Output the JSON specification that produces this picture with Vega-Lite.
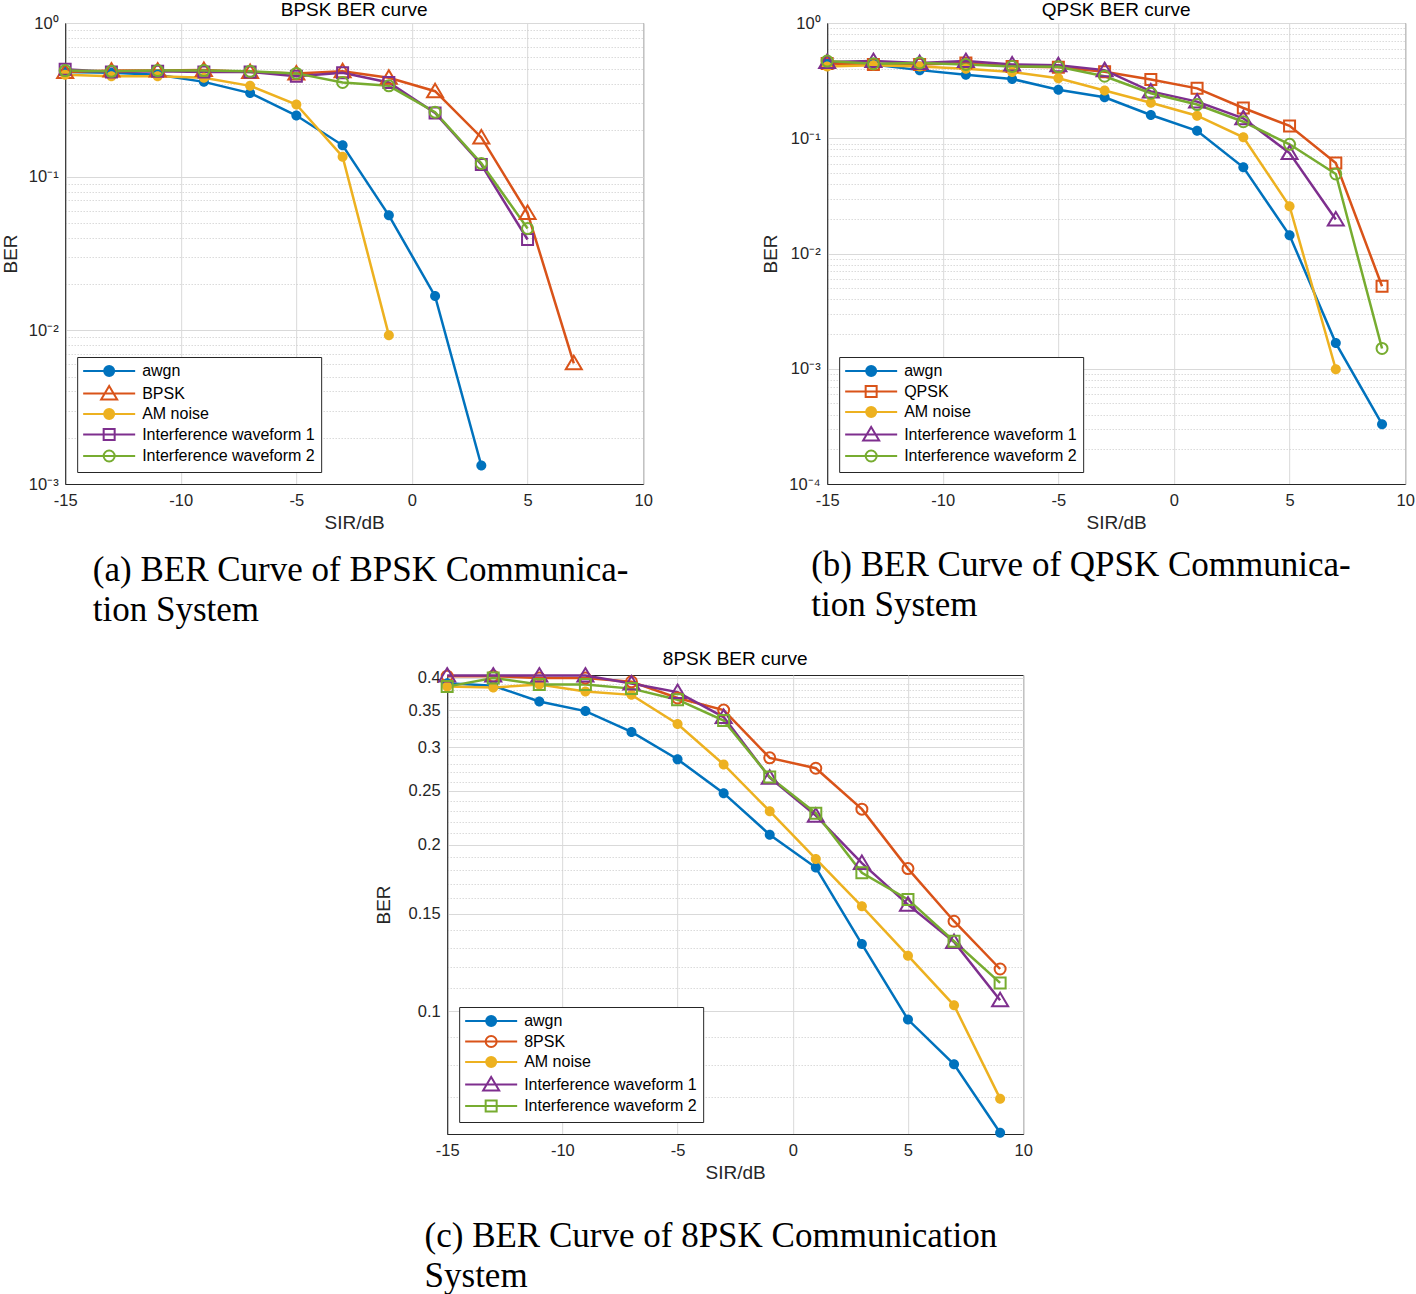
{
"$schema": "https://vega.github.io/schema/vega-lite/v6.json",
"background": "white",
"padding": {"left": 0, "top": 0, "right": 0, "bottom": 0},
"datasets": {
"bpsk": [
{"sir": -15, "ber": 0.48, "series": "awgn"},{"sir": -13, "ber": 0.475, "series": "awgn"},{"sir": -11, "ber": 0.46, "series": "awgn"},{"sir": -9, "ber": 0.414, "series": "awgn"},{"sir": -7, "ber": 0.35, "series": "awgn"},{"sir": -5, "ber": 0.25, "series": "awgn"},{"sir": -3, "ber": 0.16, "series": "awgn"},{"sir": -1, "ber": 0.056, "series": "awgn"},{"sir": 1, "ber": 0.0167, "series": "awgn"},{"sir": 3, "ber": 0.00132, "series": "awgn"},
{"sir": -15, "ber": 0.48, "series": "BPSK"},{"sir": -13, "ber": 0.49, "series": "BPSK"},{"sir": -11, "ber": 0.49, "series": "BPSK"},{"sir": -9, "ber": 0.495, "series": "BPSK"},{"sir": -7, "ber": 0.48, "series": "BPSK"},{"sir": -5, "ber": 0.47, "series": "BPSK"},{"sir": -3, "ber": 0.485, "series": "BPSK"},{"sir": -1, "ber": 0.44, "series": "BPSK"},{"sir": 1, "ber": 0.36, "series": "BPSK"},{"sir": 3, "ber": 0.18, "series": "BPSK"},{"sir": 5, "ber": 0.058, "series": "BPSK"},{"sir": 7, "ber": 0.0061, "series": "BPSK"},
{"sir": -15, "ber": 0.46, "series": "AM noise"},{"sir": -13, "ber": 0.45, "series": "AM noise"},{"sir": -11, "ber": 0.45, "series": "AM noise"},{"sir": -9, "ber": 0.44, "series": "AM noise"},{"sir": -7, "ber": 0.39, "series": "AM noise"},{"sir": -5, "ber": 0.295, "series": "AM noise"},{"sir": -3, "ber": 0.135, "series": "AM noise"},{"sir": -1, "ber": 0.0093, "series": "AM noise"},
{"sir": -15, "ber": 0.5, "series": "Interference waveform 1"},{"sir": -13, "ber": 0.48, "series": "Interference waveform 1"},{"sir": -11, "ber": 0.485, "series": "Interference waveform 1"},{"sir": -9, "ber": 0.48, "series": "Interference waveform 1"},{"sir": -7, "ber": 0.48, "series": "Interference waveform 1"},{"sir": -5, "ber": 0.45, "series": "Interference waveform 1"},{"sir": -3, "ber": 0.475, "series": "Interference waveform 1"},{"sir": -1, "ber": 0.41, "series": "Interference waveform 1"},{"sir": 1, "ber": 0.26, "series": "Interference waveform 1"},{"sir": 3, "ber": 0.12, "series": "Interference waveform 1"},{"sir": 5, "ber": 0.039, "series": "Interference waveform 1"},
{"sir": -15, "ber": 0.49, "series": "Interference waveform 2"},{"sir": -13, "ber": 0.485, "series": "Interference waveform 2"},{"sir": -11, "ber": 0.49, "series": "Interference waveform 2"},{"sir": -9, "ber": 0.49, "series": "Interference waveform 2"},{"sir": -7, "ber": 0.485, "series": "Interference waveform 2"},{"sir": -5, "ber": 0.47, "series": "Interference waveform 2"},{"sir": -3, "ber": 0.41, "series": "Interference waveform 2"},{"sir": -1, "ber": 0.39, "series": "Interference waveform 2"},{"sir": 1, "ber": 0.263, "series": "Interference waveform 2"},{"sir": 3, "ber": 0.122, "series": "Interference waveform 2"},{"sir": 5, "ber": 0.046, "series": "Interference waveform 2"}
],
"qpsk": [
{"sir": -15, "ber": 0.458, "series": "awgn"},{"sir": -13, "ber": 0.437, "series": "awgn"},{"sir": -11, "ber": 0.39, "series": "awgn"},{"sir": -9, "ber": 0.355, "series": "awgn"},{"sir": -7, "ber": 0.327, "series": "awgn"},{"sir": -5, "ber": 0.264, "series": "awgn"},{"sir": -3, "ber": 0.227, "series": "awgn"},{"sir": -1, "ber": 0.159, "series": "awgn"},{"sir": 1, "ber": 0.116, "series": "awgn"},{"sir": 3, "ber": 0.056, "series": "awgn"},{"sir": 5, "ber": 0.0144, "series": "awgn"},{"sir": 7, "ber": 0.00167, "series": "awgn"},{"sir": 9, "ber": 0.00033, "series": "awgn"},
{"sir": -15, "ber": 0.445, "series": "QPSK"},{"sir": -13, "ber": 0.437, "series": "QPSK"},{"sir": -11, "ber": 0.437, "series": "QPSK"},{"sir": -9, "ber": 0.45, "series": "QPSK"},{"sir": -7, "ber": 0.42, "series": "QPSK"},{"sir": -5, "ber": 0.414, "series": "QPSK"},{"sir": -3, "ber": 0.377, "series": "QPSK"},{"sir": -1, "ber": 0.323, "series": "QPSK"},{"sir": 1, "ber": 0.271, "series": "QPSK"},{"sir": 3, "ber": 0.183, "series": "QPSK"},{"sir": 5, "ber": 0.128, "series": "QPSK"},{"sir": 7, "ber": 0.061, "series": "QPSK"},{"sir": 9, "ber": 0.0052, "series": "QPSK"},
{"sir": -15, "ber": 0.42, "series": "AM noise"},{"sir": -13, "ber": 0.43, "series": "AM noise"},{"sir": -11, "ber": 0.42, "series": "AM noise"},{"sir": -9, "ber": 0.4, "series": "AM noise"},{"sir": -7, "ber": 0.375, "series": "AM noise"},{"sir": -5, "ber": 0.332, "series": "AM noise"},{"sir": -3, "ber": 0.26, "series": "AM noise"},{"sir": -1, "ber": 0.203, "series": "AM noise"},{"sir": 1, "ber": 0.157, "series": "AM noise"},{"sir": 3, "ber": 0.102, "series": "AM noise"},{"sir": 5, "ber": 0.0257, "series": "AM noise"},{"sir": 7, "ber": 0.00099, "series": "AM noise"},
{"sir": -15, "ber": 0.458, "series": "Interference waveform 1"},{"sir": -13, "ber": 0.467, "series": "Interference waveform 1"},{"sir": -11, "ber": 0.45, "series": "Interference waveform 1"},{"sir": -9, "ber": 0.467, "series": "Interference waveform 1"},{"sir": -7, "ber": 0.437, "series": "Interference waveform 1"},{"sir": -5, "ber": 0.43, "series": "Interference waveform 1"},{"sir": -3, "ber": 0.39, "series": "Interference waveform 1"},{"sir": -1, "ber": 0.255, "series": "Interference waveform 1"},{"sir": 1, "ber": 0.208, "series": "Interference waveform 1"},{"sir": 3, "ber": 0.149, "series": "Interference waveform 1"},{"sir": 5, "ber": 0.0743, "series": "Interference waveform 1"},{"sir": 7, "ber": 0.0197, "series": "Interference waveform 1"},
{"sir": -15, "ber": 0.467, "series": "Interference waveform 2"},{"sir": -13, "ber": 0.443, "series": "Interference waveform 2"},{"sir": -11, "ber": 0.45, "series": "Interference waveform 2"},{"sir": -9, "ber": 0.437, "series": "Interference waveform 2"},{"sir": -7, "ber": 0.42, "series": "Interference waveform 2"},{"sir": -5, "ber": 0.417, "series": "Interference waveform 2"},{"sir": -3, "ber": 0.345, "series": "Interference waveform 2"},{"sir": -1, "ber": 0.246, "series": "Interference waveform 2"},{"sir": 1, "ber": 0.196, "series": "Interference waveform 2"},{"sir": 3, "ber": 0.139, "series": "Interference waveform 2"},{"sir": 5, "ber": 0.0886, "series": "Interference waveform 2"},{"sir": 7, "ber": 0.049, "series": "Interference waveform 2"},{"sir": 9, "ber": 0.0015, "series": "Interference waveform 2"}
],
"psk8": [
{"sir": -15, "ber": 0.3915, "series": "awgn"},{"sir": -13, "ber": 0.3873, "series": "awgn"},{"sir": -11, "ber": 0.3628, "series": "awgn"},{"sir": -9, "ber": 0.3485, "series": "awgn"},{"sir": -7, "ber": 0.3196, "series": "awgn"},{"sir": -5, "ber": 0.2852, "series": "awgn"},{"sir": -3, "ber": 0.2477, "series": "awgn"},{"sir": -1, "ber": 0.2084, "series": "awgn"},{"sir": 1, "ber": 0.1818, "series": "awgn"},{"sir": 3, "ber": 0.1322, "series": "awgn"},{"sir": 5, "ber": 0.0966, "series": "awgn"},{"sir": 7, "ber": 0.0802, "series": "awgn"},{"sir": 9, "ber": 0.0603, "series": "awgn"},
{"sir": -15, "ber": 0.403, "series": "8PSK"},{"sir": -13, "ber": 0.403, "series": "8PSK"},{"sir": -11, "ber": 0.4, "series": "8PSK"},{"sir": -9, "ber": 0.4, "series": "8PSK"},{"sir": -7, "ber": 0.3937, "series": "8PSK"},{"sir": -5, "ber": 0.368, "series": "8PSK"},{"sir": -3, "ber": 0.35, "series": "8PSK"},{"sir": -1, "ber": 0.2869, "series": "8PSK"},{"sir": 1, "ber": 0.2748, "series": "8PSK"},{"sir": 3, "ber": 0.2318, "series": "8PSK"},{"sir": 5, "ber": 0.181, "series": "8PSK"},{"sir": 7, "ber": 0.1454, "series": "8PSK"},{"sir": 9, "ber": 0.1192, "series": "8PSK"},
{"sir": -15, "ber": 0.3859, "series": "AM noise"},{"sir": -13, "ber": 0.3845, "series": "AM noise"},{"sir": -11, "ber": 0.3893, "series": "AM noise"},{"sir": -9, "ber": 0.3783, "series": "AM noise"},{"sir": -7, "ber": 0.3729, "series": "AM noise"},{"sir": -5, "ber": 0.3303, "series": "AM noise"},{"sir": -3, "ber": 0.2791, "series": "AM noise"},{"sir": -1, "ber": 0.2298, "series": "AM noise"},{"sir": 1, "ber": 0.1884, "series": "AM noise"},{"sir": 3, "ber": 0.1547, "series": "AM noise"},{"sir": 5, "ber": 0.126, "series": "AM noise"},{"sir": 7, "ber": 0.1025, "series": "AM noise"},{"sir": 9, "ber": 0.0695, "series": "AM noise"},
{"sir": -15, "ber": 0.404, "series": "Interference waveform 1"},{"sir": -13, "ber": 0.404, "series": "Interference waveform 1"},{"sir": -11, "ber": 0.404, "series": "Interference waveform 1"},{"sir": -9, "ber": 0.404, "series": "Interference waveform 1"},{"sir": -7, "ber": 0.391, "series": "Interference waveform 1"},{"sir": -5, "ber": 0.3772, "series": "Interference waveform 1"},{"sir": -3, "ber": 0.34, "series": "Interference waveform 1"},{"sir": -1, "ber": 0.2642, "series": "Interference waveform 1"},{"sir": 1, "ber": 0.2256, "series": "Interference waveform 1"},{"sir": 3, "ber": 0.1852, "series": "Interference waveform 1"},{"sir": 5, "ber": 0.1558, "series": "Interference waveform 1"},{"sir": 7, "ber": 0.1334, "series": "Interference waveform 1"},{"sir": 9, "ber": 0.1047, "series": "Interference waveform 1"},
{"sir": -15, "ber": 0.3859, "series": "Interference waveform 2"},{"sir": -13, "ber": 0.4, "series": "Interference waveform 2"},{"sir": -11, "ber": 0.3893, "series": "Interference waveform 2"},{"sir": -9, "ber": 0.3893, "series": "Interference waveform 2"},{"sir": -7, "ber": 0.3827, "series": "Interference waveform 2"},{"sir": -5, "ber": 0.3654, "series": "Interference waveform 2"},{"sir": -3, "ber": 0.3351, "series": "Interference waveform 2"},{"sir": -1, "ber": 0.265, "series": "Interference waveform 2"},{"sir": 1, "ber": 0.2279, "series": "Interference waveform 2"},{"sir": 3, "ber": 0.1779, "series": "Interference waveform 2"},{"sir": 5, "ber": 0.1592, "series": "Interference waveform 2"},{"sir": 7, "ber": 0.1338, "series": "Interference waveform 2"},{"sir": 9, "ber": 0.1125, "series": "Interference waveform 2"}
]
},
"config": {
"font": "Liberation Sans",
"view": {"stroke": "#262626", "strokeWidth": 1},
"axis": {"labelFont": "Liberation Sans", "titleFont": "Liberation Sans", "labelFontSize": 16.5, "titleFontSize": 19, "labelColor": "#262626", "titleColor": "#262626", "titleFontWeight": "normal", "domainColor": "#262626", "ticks": false, "labelFlush": false, "labelOverlap": false, "gridColor": "#d9d9d9", "gridOpacity": 1},
"title": {"font": "Liberation Sans", "fontSize": 19, "fontWeight": "normal", "color": "#000000", "offset": -5},
"legend": {"labelFont": "Liberation Sans", "labelFontSize": 16, "labelColor": "#000000", "labelLimit": 400, "orient": "bottom-left", "offset": 12, "fillColor": "white", "strokeColor": "#262626", "padding": 6, "rowPadding": 1.5, "symbolSize": 100, "symbolStrokeWidth": 2, "symbolOffset": 18, "labelOffset": 25, "cornerRadius": 0}
},
"resolve": {"scale": {"color": "independent"}, "legend": {"color": "independent"}},
"center": true,
"spacing": 21,
"vconcat": [
{
"hconcat": [
{
"resolve": {"scale": {"color": "independent"}, "legend": {"color": "independent"}},
"title": {"text": ["(a) BER Curve of BPSK Communica-", "tion System"], "orient": "bottom", "anchor": "start", "font": "Liberation Serif", "fontSize": 35, "fontWeight": "normal", "lineHeight": 40, "offset": 20, "dx": 92, "color": "#000000"},
"vconcat": [
{
"width": 578, "height": 461,
"title": {"text": "BPSK BER curve"},
"data": {"name": "bpsk"},
"encoding": {
"x": {"field": "sir", "type": "quantitative", "scale": {"domain": [-15, 10], "nice": false}, "axis": {"values": [-15, -10, -5, 0, 5, 10], "labelExpr": "'' + datum.value", "title": "SIR/dB", "labelPadding": 8, "titlePadding": 5}},
"y": {"field": "ber", "type": "quantitative", "scale": {"type": "log", "domain": [0.001, 1], "nice": false}, "axis": {"title": "BER", "labelPadding": 7, "titlePadding": 8,
"values": [0.001,0.002,0.003,0.004,0.005,0.006,0.007,0.008,0.009,0.01,0.02,0.03,0.04,0.05,0.06,0.07,0.08,0.09,0.1,0.2,0.3,0.4,0.5,0.6,0.7,0.8,0.9,1],
"labelExpr": "datum.value===1?'10⁰':datum.value===0.1?'10⁻¹':datum.value===0.01?'10⁻²':datum.value===0.001?'10⁻³':''",
"gridDash": {"condition": {"test": "indexof([1,0.1,0.01,0.001], datum.value) < 0", "value": [1, 2]}, "value": []},
"gridColor": {"condition": {"test": "indexof([1,0.1,0.01,0.001], datum.value) < 0", "value": "#c8c8c8"}, "value": "#d9d9d9"}}}
},
"layer": [
{"mark": {"type": "line", "strokeWidth": 2.5},
"encoding": {
"color": {"field": "series", "type": "nominal", "scale": {"domain": ["awgn", "BPSK", "AM noise", "Interference waveform 1", "Interference waveform 2"], "range": ["#0072BD", "#D95319", "#EDB120", "#7E2F8E", "#77AC30"]},
"legend": {"title": null, "encode": {"symbols": {"update": {
"shape": {"signal": "datum.value==='BPSK'?'M-5.2,0H5.2M0,-1.5L1.6,1.2L-1.6,1.2Z':datum.value==='Interference waveform 1'?'M-5.2,0H5.2M-1.1,-1.1H1.1V1.1H-1.1Z':datum.value==='Interference waveform 2'?'M-5.2,0H5.2M-1.1,0A1.1,1.1 0 1,0 1.1,0A1.1,1.1 0 1,0 -1.1,0Z':'M-5.2,0H5.2M-1,0A1,1 0 1,0 1,0A1,1 0 1,0 -1,0Z'"},
"fill": {"signal": "datum.value==='awgn'?'#0072BD':datum.value==='AM noise'?'#EDB120':'transparent'"},
"stroke": {"signal": "datum.value==='awgn'?'#0072BD':datum.value==='BPSK'?'#D95319':datum.value==='AM noise'?'#EDB120':datum.value==='Interference waveform 1'?'#7E2F8E':'#77AC30'"},
"strokeWidth": {"value": 2}, "opacity": {"value": 1}}}}}}
}},
{"transform": [{"filter": {"field": "series", "equal": "awgn"}}], "mark": {"type": "point", "shape": "M-1,0A1,1 0 1,0 1,0A1,1 0 1,0 -1,0Z", "size": 100, "strokeWidth": 2, "opacity": 1, "filled": true, "color": "#0072BD"}},
{"transform": [{"filter": {"field": "series", "equal": "BPSK"}}], "mark": {"type": "point", "shape": "M0,-1.5L1.6,1.2L-1.6,1.2Z", "size": 100, "strokeWidth": 2, "opacity": 1, "filled": false, "color": "#D95319"}},
{"transform": [{"filter": {"field": "series", "equal": "AM noise"}}], "mark": {"type": "point", "shape": "M-1,0A1,1 0 1,0 1,0A1,1 0 1,0 -1,0Z", "size": 100, "strokeWidth": 2, "opacity": 1, "filled": true, "color": "#EDB120"}},
{"transform": [{"filter": {"field": "series", "equal": "Interference waveform 1"}}], "mark": {"type": "point", "shape": "M-1.1,-1.1H1.1V1.1H-1.1Z", "size": 100, "strokeWidth": 2, "opacity": 1, "filled": false, "color": "#7E2F8E"}},
{"transform": [{"filter": {"field": "series", "equal": "Interference waveform 2"}}], "mark": {"type": "point", "shape": "M-1.1,0A1.1,1.1 0 1,0 1.1,0A1.1,1.1 0 1,0 -1.1,0Z", "size": 100, "strokeWidth": 2, "opacity": 1, "filled": false, "color": "#77AC30"}}
]
}
]
},
{
"resolve": {"scale": {"color": "independent"}, "legend": {"color": "independent"}},
"title": {"text": ["(b) BER Curve of QPSK Communica-", "tion System"], "orient": "bottom", "anchor": "start", "font": "Liberation Serif", "fontSize": 35, "fontWeight": "normal", "lineHeight": 40, "offset": 15, "dx": 50, "color": "#000000"},
"vconcat": [
{
"width": 578, "height": 461,
"title": {"text": "QPSK BER curve"},
"data": {"name": "qpsk"},
"encoding": {
"x": {"field": "sir", "type": "quantitative", "scale": {"domain": [-15, 10], "nice": false}, "axis": {"values": [-15, -10, -5, 0, 5, 10], "labelExpr": "'' + datum.value", "title": "SIR/dB", "labelPadding": 8, "titlePadding": 5}},
"y": {"field": "ber", "type": "quantitative", "scale": {"type": "log", "domain": [0.0001, 1], "nice": false}, "axis": {"title": "BER", "labelPadding": 7, "titlePadding": 8,
"values": [0.0001,0.0002,0.0003,0.0004,0.0005,0.0006,0.0007,0.0008,0.0009,0.001,0.002,0.003,0.004,0.005,0.006,0.007,0.008,0.009,0.01,0.02,0.03,0.04,0.05,0.06,0.07,0.08,0.09,0.1,0.2,0.3,0.4,0.5,0.6,0.7,0.8,0.9,1],
"labelExpr": "datum.value===1?'10⁰':datum.value===0.1?'10⁻¹':datum.value===0.01?'10⁻²':datum.value===0.001?'10⁻³':datum.value===0.0001?'10⁻⁴':''",
"gridDash": {"condition": {"test": "indexof([1,0.1,0.01,0.001,0.0001], datum.value) < 0", "value": [1, 2]}, "value": []},
"gridColor": {"condition": {"test": "indexof([1,0.1,0.01,0.001,0.0001], datum.value) < 0", "value": "#c8c8c8"}, "value": "#d9d9d9"}}}
},
"layer": [
{"mark": {"type": "line", "strokeWidth": 2.5},
"encoding": {
"color": {"field": "series", "type": "nominal", "scale": {"domain": ["awgn", "QPSK", "AM noise", "Interference waveform 1", "Interference waveform 2"], "range": ["#0072BD", "#D95319", "#EDB120", "#7E2F8E", "#77AC30"]},
"legend": {"title": null, "encode": {"symbols": {"update": {
"shape": {"signal": "datum.value==='QPSK'?'M-5.2,0H5.2M-1.1,-1.1H1.1V1.1H-1.1Z':datum.value==='Interference waveform 1'?'M-5.2,0H5.2M0,-1.5L1.6,1.2L-1.6,1.2Z':datum.value==='Interference waveform 2'?'M-5.2,0H5.2M-1.1,0A1.1,1.1 0 1,0 1.1,0A1.1,1.1 0 1,0 -1.1,0Z':'M-5.2,0H5.2M-1,0A1,1 0 1,0 1,0A1,1 0 1,0 -1,0Z'"},
"fill": {"signal": "datum.value==='awgn'?'#0072BD':datum.value==='AM noise'?'#EDB120':'transparent'"},
"stroke": {"signal": "datum.value==='awgn'?'#0072BD':datum.value==='QPSK'?'#D95319':datum.value==='AM noise'?'#EDB120':datum.value==='Interference waveform 1'?'#7E2F8E':'#77AC30'"},
"strokeWidth": {"value": 2}, "opacity": {"value": 1}}}}}}
}},
{"transform": [{"filter": {"field": "series", "equal": "awgn"}}], "mark": {"type": "point", "shape": "M-1,0A1,1 0 1,0 1,0A1,1 0 1,0 -1,0Z", "size": 100, "strokeWidth": 2, "opacity": 1, "filled": true, "color": "#0072BD"}},
{"transform": [{"filter": {"field": "series", "equal": "QPSK"}}], "mark": {"type": "point", "shape": "M-1.1,-1.1H1.1V1.1H-1.1Z", "size": 100, "strokeWidth": 2, "opacity": 1, "filled": false, "color": "#D95319"}},
{"transform": [{"filter": {"field": "series", "equal": "AM noise"}}], "mark": {"type": "point", "shape": "M-1,0A1,1 0 1,0 1,0A1,1 0 1,0 -1,0Z", "size": 100, "strokeWidth": 2, "opacity": 1, "filled": true, "color": "#EDB120"}},
{"transform": [{"filter": {"field": "series", "equal": "Interference waveform 1"}}], "mark": {"type": "point", "shape": "M0,-1.5L1.6,1.2L-1.6,1.2Z", "size": 100, "strokeWidth": 2, "opacity": 1, "filled": false, "color": "#7E2F8E"}},
{"transform": [{"filter": {"field": "series", "equal": "Interference waveform 2"}}], "mark": {"type": "point", "shape": "M-1.1,0A1.1,1.1 0 1,0 1.1,0A1.1,1.1 0 1,0 -1.1,0Z", "size": 100, "strokeWidth": 2, "opacity": 1, "filled": false, "color": "#77AC30"}}
]
}
]
}
],
"spacing": 108,
"resolve": {"scale": {"color": "independent"}, "legend": {"color": "independent"}}
},
{
"resolve": {"scale": {"color": "independent"}, "legend": {"color": "independent"}},
"title": {"text": ["(c) BER Curve of 8PSK Communication", "System"], "orient": "bottom", "anchor": "start", "font": "Liberation Serif", "fontSize": 35, "fontWeight": "normal", "lineHeight": 40, "offset": 36, "dx": 51, "color": "#000000"},
"vconcat": [
{
"width": 576, "height": 459,
"title": {"text": "8PSK BER curve"},
"data": {"name": "psk8"},
"encoding": {
"x": {"field": "sir", "type": "quantitative", "scale": {"domain": [-15, 10], "nice": false}, "axis": {"values": [-15, -10, -5, 0, 5, 10], "labelExpr": "'' + datum.value", "title": "SIR/dB", "labelPadding": 8, "titlePadding": 5}},
"y": {"field": "ber", "type": "quantitative", "scale": {"type": "log", "domain": [0.06, 0.405], "nice": false}, "axis": {"title": "BER", "labelPadding": 7, "titlePadding": 15,
"values": [0.06,0.07,0.08,0.09,0.1,0.11,0.12,0.13,0.14,0.15,0.16,0.17,0.18,0.19,0.2,0.21,0.22,0.23,0.24,0.25,0.26,0.27,0.28,0.29,0.3,0.31,0.32,0.33,0.34,0.35,0.36,0.37,0.38,0.39,0.4],
"labelExpr": "indexof([0.1,0.15,0.2,0.25,0.3,0.35,0.4], datum.value) >= 0 ? '' + datum.value : ''",
"gridDash": {"condition": {"test": "indexof([0.1,0.15,0.2,0.25,0.3,0.35,0.4], datum.value) < 0", "value": [1, 2]}, "value": []},
"gridColor": {"condition": {"test": "indexof([0.1,0.15,0.2,0.25,0.3,0.35,0.4], datum.value) < 0", "value": "#c8c8c8"}, "value": "#d9d9d9"}}}
},
"layer": [
{"mark": {"type": "line", "strokeWidth": 2.5},
"encoding": {
"color": {"field": "series", "type": "nominal", "scale": {"domain": ["awgn", "8PSK", "AM noise", "Interference waveform 1", "Interference waveform 2"], "range": ["#0072BD", "#D95319", "#EDB120", "#7E2F8E", "#77AC30"]},
"legend": {"title": null, "encode": {"symbols": {"update": {
"shape": {"signal": "datum.value==='8PSK'?'M-5.2,0H5.2M-1.1,0A1.1,1.1 0 1,0 1.1,0A1.1,1.1 0 1,0 -1.1,0Z':datum.value==='Interference waveform 1'?'M-5.2,0H5.2M0,-1.5L1.6,1.2L-1.6,1.2Z':datum.value==='Interference waveform 2'?'M-5.2,0H5.2M-1.1,-1.1H1.1V1.1H-1.1Z':'M-5.2,0H5.2M-1,0A1,1 0 1,0 1,0A1,1 0 1,0 -1,0Z'"},
"fill": {"signal": "datum.value==='awgn'?'#0072BD':datum.value==='AM noise'?'#EDB120':'transparent'"},
"stroke": {"signal": "datum.value==='awgn'?'#0072BD':datum.value==='8PSK'?'#D95319':datum.value==='AM noise'?'#EDB120':datum.value==='Interference waveform 1'?'#7E2F8E':'#77AC30'"},
"strokeWidth": {"value": 2}, "opacity": {"value": 1}}}}}}
}},
{"transform": [{"filter": {"field": "series", "equal": "awgn"}}], "mark": {"type": "point", "shape": "M-1,0A1,1 0 1,0 1,0A1,1 0 1,0 -1,0Z", "size": 100, "strokeWidth": 2, "opacity": 1, "filled": true, "color": "#0072BD"}},
{"transform": [{"filter": {"field": "series", "equal": "8PSK"}}], "mark": {"type": "point", "shape": "M-1.1,0A1.1,1.1 0 1,0 1.1,0A1.1,1.1 0 1,0 -1.1,0Z", "size": 100, "strokeWidth": 2, "opacity": 1, "filled": false, "color": "#D95319"}},
{"transform": [{"filter": {"field": "series", "equal": "AM noise"}}], "mark": {"type": "point", "shape": "M-1,0A1,1 0 1,0 1,0A1,1 0 1,0 -1,0Z", "size": 100, "strokeWidth": 2, "opacity": 1, "filled": true, "color": "#EDB120"}},
{"transform": [{"filter": {"field": "series", "equal": "Interference waveform 1"}}], "mark": {"type": "point", "shape": "M0,-1.5L1.6,1.2L-1.6,1.2Z", "size": 100, "strokeWidth": 2, "opacity": 1, "filled": false, "color": "#7E2F8E"}},
{"transform": [{"filter": {"field": "series", "equal": "Interference waveform 2"}}], "mark": {"type": "point", "shape": "M-1.1,-1.1H1.1V1.1H-1.1Z", "size": 100, "strokeWidth": 2, "opacity": 1, "filled": false, "color": "#77AC30"}}
]
}
]
}
]
}
